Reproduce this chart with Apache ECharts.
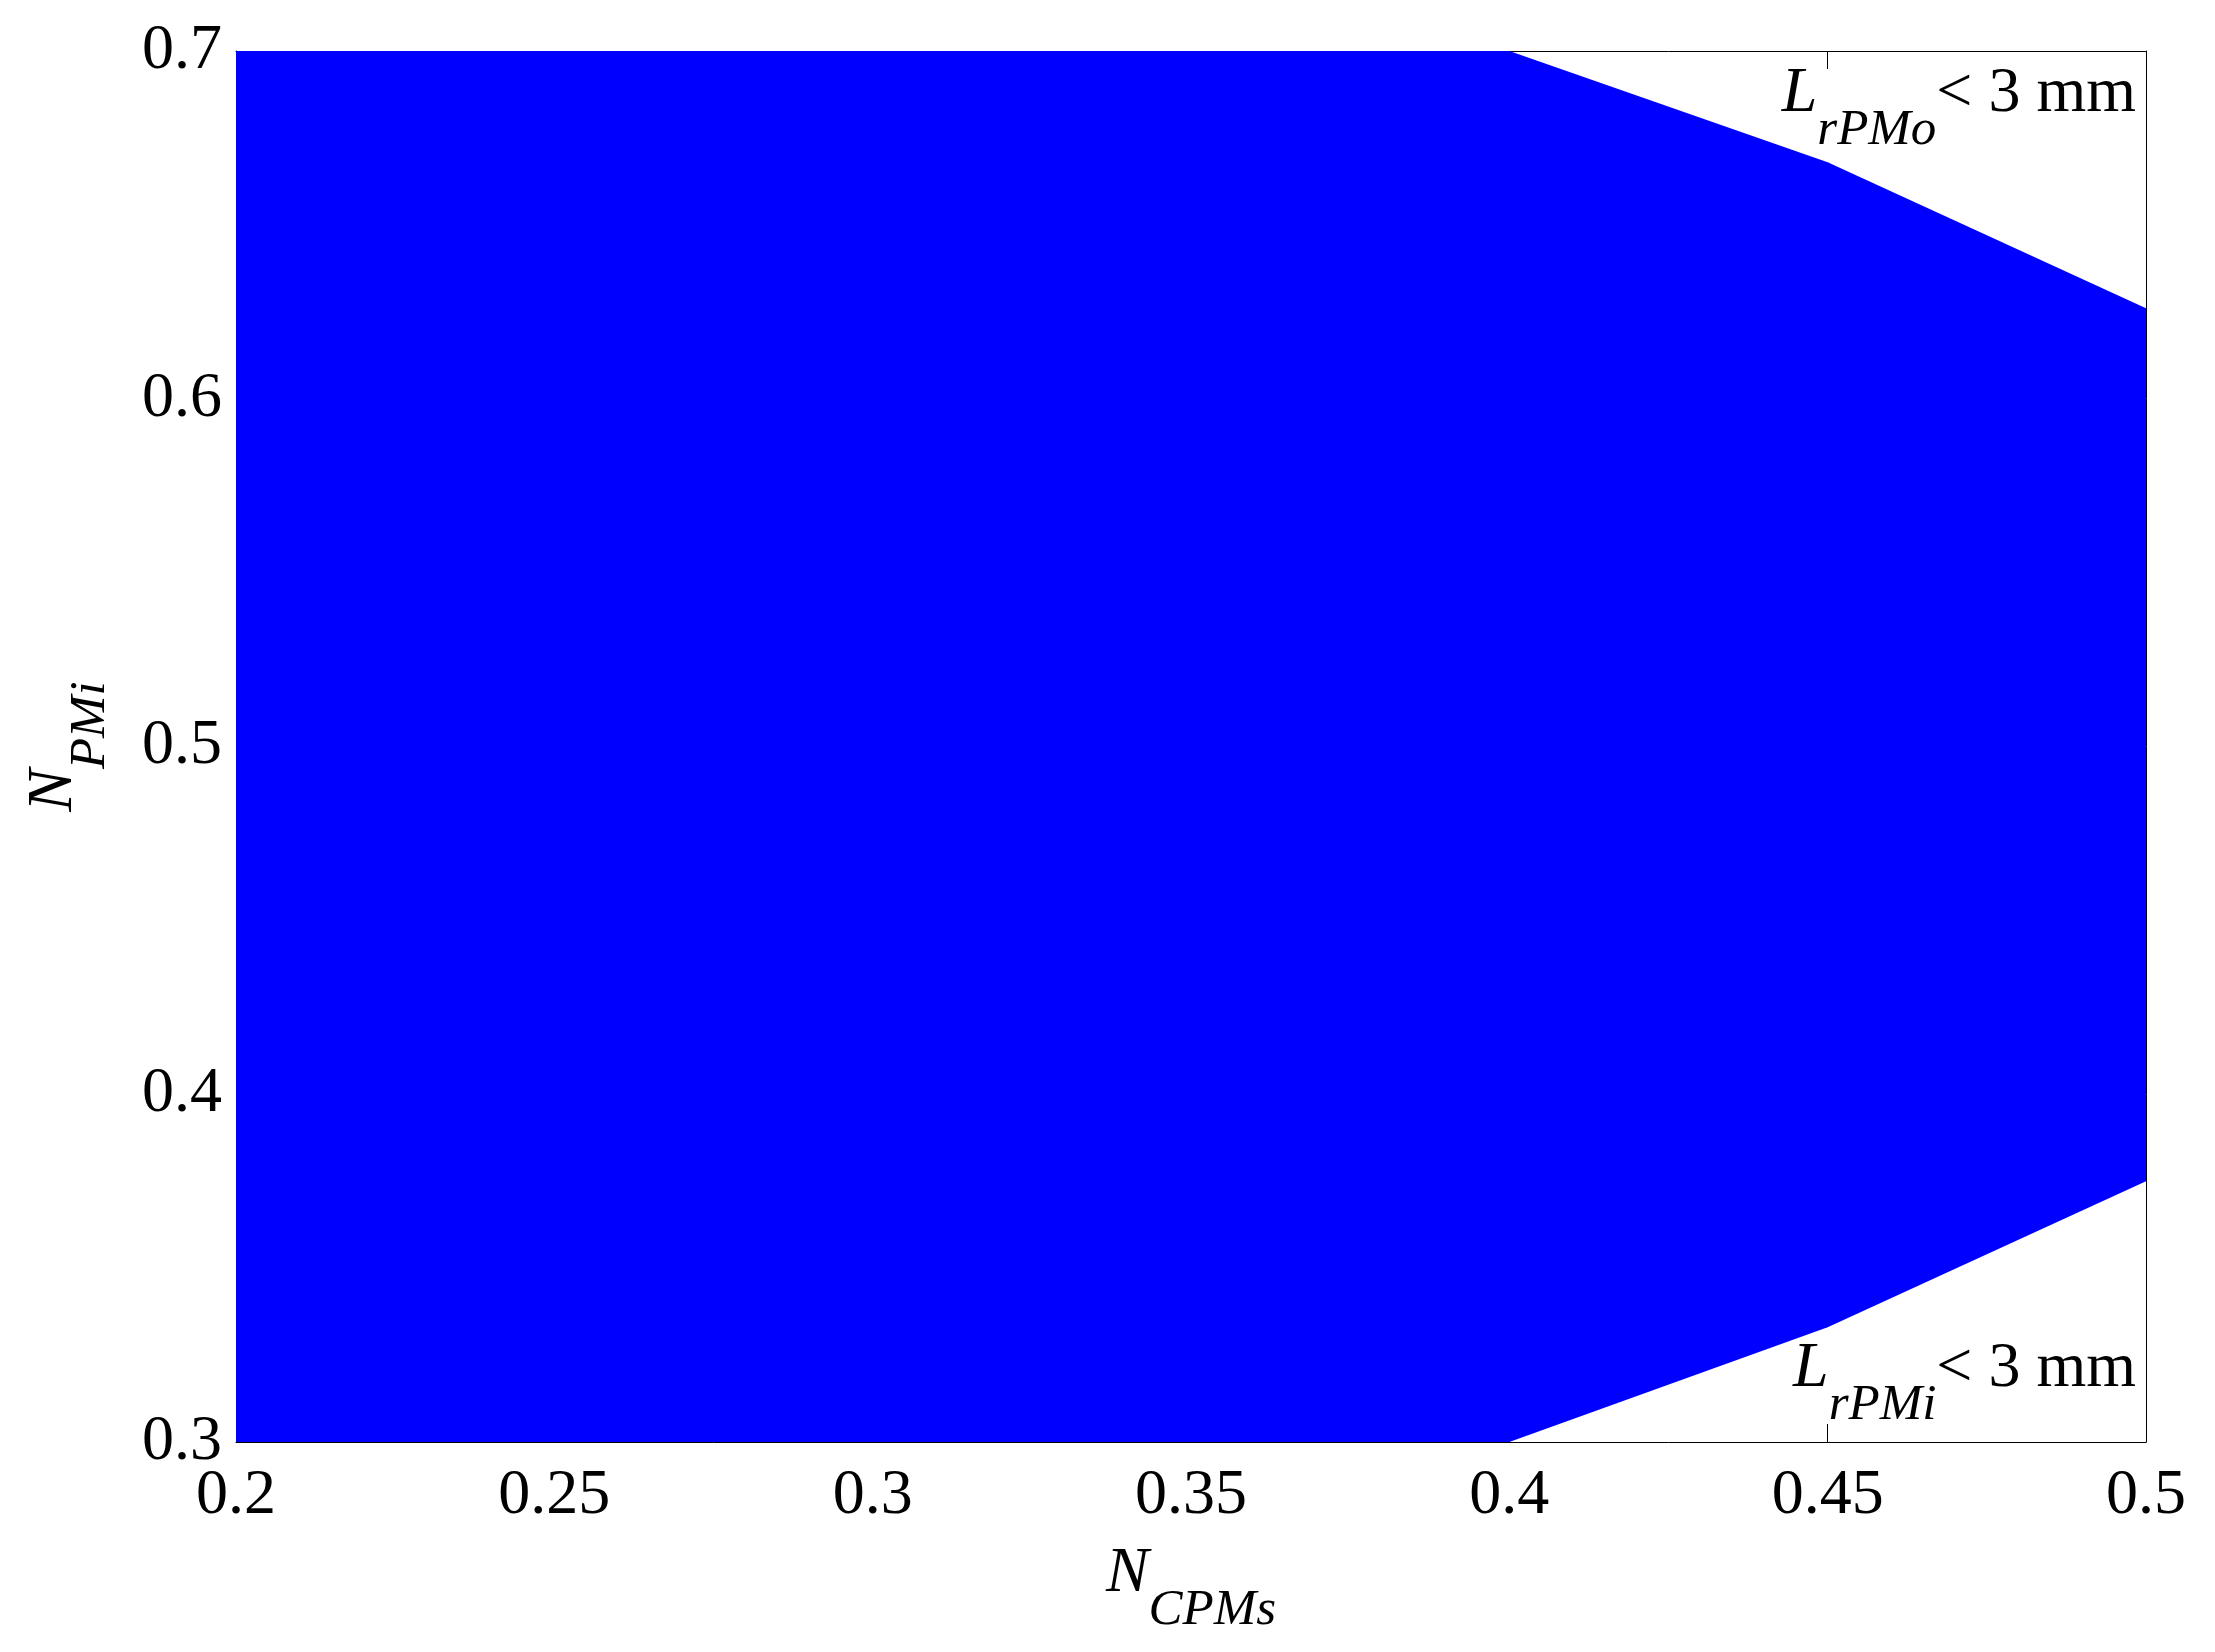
<!DOCTYPE html>
<html>
<head>
<meta charset="utf-8">
<script src="https://cdn.jsdelivr.net/npm/echarts@6/dist/echarts.min.js"></script>
<style>
  html, body { margin: 0; padding: 0; background: #fff; }
  #chart { width: 2215px; height: 1652px; }
</style>
</head>
<body>
<div id="chart"></div>
<script>
// feasible region boundary (N_CPMs -> lower / upper N_PMi)
const xVals = [0.2, 0.4, 0.45, 0.5];
const upperVals = [0.7, 0.7, 0.668, 0.626];
const lowerVals = [0.3, 0.3, 0.333, 0.375];
const xTicks = [0.2, 0.25, 0.3, 0.35, 0.4, 0.45, 0.5];
const yTicks = [0.3, 0.4, 0.5, 0.6, 0.7];

const FONT = '"Liberation Serif", "DejaVu Serif", serif';

const chart = echarts.init(document.getElementById('chart'));

const axisCommon = {
  axisLine: { show: true, onZero: false, lineStyle: { color: '#000', width: 1 } },
  axisTick: { show: true, inside: true, length: 18, lineStyle: { color: '#000', width: 1 } },
  splitLine: { show: false }
};

// subscript style text: big letter raised, subscript sits lower
const subRich = {
  n: { fontFamily: FONT, fontStyle: 'italic', fontSize: 64, color: '#000', verticalAlign: 'bottom', padding: [0, 0, 30, 0] },
  s: { fontFamily: FONT, fontStyle: 'italic', fontSize: 51, color: '#000', verticalAlign: 'bottom' },
  r: { fontFamily: FONT, fontSize: 64, color: '#000', verticalAlign: 'bottom', padding: [0, 0, 30, 0] }
};

const option = {
  backgroundColor: '#fff',
  animation: false,
  grid: { left: 236, right: 69, top: 51, bottom: 210, containLabel: false, outerBoundsMode: 'none' },
  xAxis: [
    {
      type: 'value', position: 'bottom', min: 0.2, max: 0.5, interval: 0.05,
      ...axisCommon,
      axisLabel: { fontFamily: FONT, fontSize: 64, color: '#000', margin: 22, formatter: v => String(+v.toFixed(2)) },
      name: '{n|N}{s|CPMs}',
      nameLocation: 'middle', nameGap: 100,
      nameTextStyle: { rich: subRich }
    },
    {
      type: 'value', position: 'top', min: 0.2, max: 0.5, interval: 0.05,
      ...axisCommon, axisLabel: { show: false }
    }
  ],
  yAxis: [
    {
      type: 'value', position: 'left', min: 0.3, max: 0.7, interval: 0.1,
      ...axisCommon,
      axisLabel: { fontFamily: FONT, fontSize: 64, color: '#000', margin: 14, formatter: v => String(+v.toFixed(1)) },
      name: '{n|N}{s|PMi}',
      nameLocation: 'middle', nameGap: 120, nameRotate: 90,
      nameTextStyle: { rich: subRich }
    },
    {
      type: 'value', position: 'right', min: 0.3, max: 0.7, interval: 0.1,
      ...axisCommon, axisLabel: { show: false }
    }
  ],
  series: [
    {
      type: 'custom',
      name: 'feasible',
      xAxisIndex: 0, yAxisIndex: 0,
      data: [[xVals[0], lowerVals[0]]],
      z: 5,
      renderItem: (params, api) => {
        const pts = [];
        xVals.forEach((x, i) => pts.push(api.coord([x, upperVals[i]])));
        for (let i = xVals.length - 1; i >= 0; i--) pts.push(api.coord([xVals[i], lowerVals[i]]));
        return {
          type: 'polygon',
          shape: { points: pts },
          style: { fill: '#0000ff', stroke: null }
        };
      }
    }
  ],
  graphic: [
    {
      type: 'text', right: 2215 - 2136, top: 62, z: 10,
      style: { text: '{n|L}{s|rPMo}{r|< 3 mm}', rich: subRich }
    },
    {
      type: 'text', right: 2215 - 2136, top: 1337, z: 10,
      style: { text: '{n|L}{s|rPMi}{r|< 3 mm}', rich: subRich }
    }
  ]
};

chart.setOption(option);
</script>
</body>
</html>
